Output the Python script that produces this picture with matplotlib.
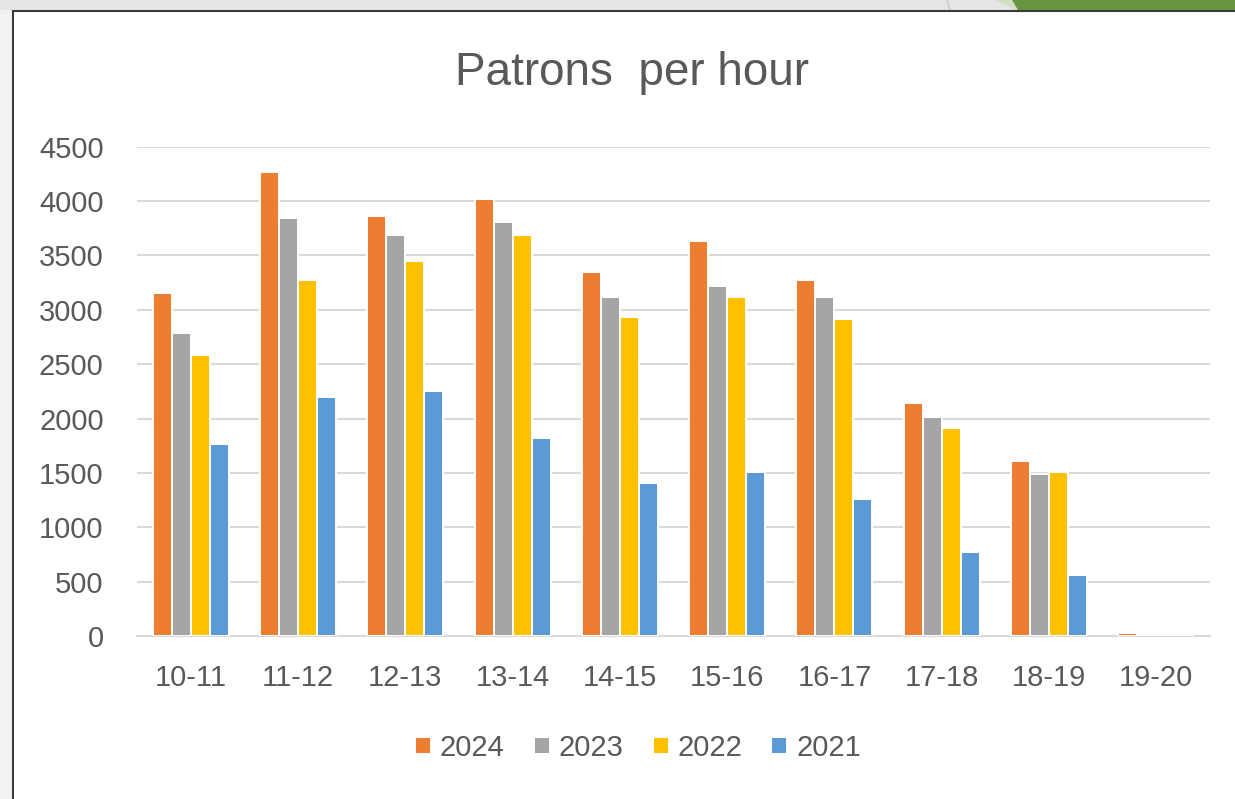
import numpy as np
import matplotlib.pyplot as plt
from matplotlib.patches import Rectangle, Polygon

plt.rcParams['font.family'] = ['Liberation Sans', 'DejaVu Sans']

# =============================================================================
# DATA
# =============================================================================

hours = ['10-11', '11-12', '12-13', '13-14', '14-15',
         '15-16', '16-17', '17-18', '18-19', '19-20']
years = ['2024', '2023', '2022', '2021']

patrons_2024 = [3150, 4270, 3865, 4015, 3350, 3635, 3275, 2145, 1610, 30]
patrons_2023 = [2790, 3840, 3685, 3810, 3120, 3220, 3120, 2015, 1490, 0]
patrons_2022 = [2585, 3275, 3450, 3685, 2935, 3120, 2915, 1915, 1510, 0]
patrons_2021 = [1765, 2200, 2255, 1820, 1410, 1510, 1260, 775, 565, 0]

series = [patrons_2024, patrons_2023, patrons_2022, patrons_2021]
colors = ['#ED7D31', '#A5A5A5', '#FFC000', '#5B9BD5']

TEXT = '#595959'
GRID = '#D9D9D9'

# =============================================================================
# FIGURE
# =============================================================================

fig = plt.figure(figsize=(12.35, 7.99), dpi=100)
W, H = 1235, 799

# screenshot frame: grey strips, dark border, green slide decoration
fig.patches.append(Rectangle((0, 0), 12 / W, 1, transform=fig.transFigure,
                             facecolor='#F2F2F2', edgecolor='none'))
fig.patches.append(Rectangle((0, 1 - 10 / H), 1, 10 / H, transform=fig.transFigure,
                             facecolor='#E6E6E6', edgecolor='none'))
fig.patches.append(Polygon([(995 / W, 1), (1015 / W, 1 - 10 / H), (1, 1 - 10 / H), (1, 1)],
                           closed=True, transform=fig.transFigure,
                           facecolor='#D3DFC4', edgecolor='none'))
fig.patches.append(Polygon([(1012 / W, 1), (1018 / W, 1 - 10 / H), (1, 1 - 10 / H), (1, 1)],
                           closed=True, transform=fig.transFigure,
                           facecolor='#679441', edgecolor='none'))
fig.add_artist(plt.Line2D([947 / W, 950 / W], [1, 1 - 10 / H], transform=fig.transFigure,
                          color='#C8C8C8', lw=1))
fig.add_artist(plt.Line2D([12.5 / W, 1], [1 - 10.5 / H, 1 - 10.5 / H], transform=fig.transFigure,
                          color='#3A3A3A', lw=1.5))
fig.add_artist(plt.Line2D([12.5 / W, 12.5 / W], [0, 1 - 10.5 / H], transform=fig.transFigure,
                          color='#3A3A3A', lw=1.5))

ax = fig.add_axes([137 / W, 1 - 636 / H, (1210 - 137) / W, (636 - 146.7) / H])

x = np.arange(len(hours))
bw = 0.177
for i, (vals, col, lab) in enumerate(zip(series, colors, years)):
    ax.bar(x + (i - 1.5) * bw, vals, width=bw, color=col, edgecolor='white',
           linewidth=1.4, label=lab, zorder=3)

ax.set_xlim(-0.5, len(hours) - 0.5)
ax.set_ylim(0, 4500)
ax.set_yticks(np.arange(0, 4501, 500))
ax.set_xticks(x)
ax.set_xticklabels(hours)

ax.grid(axis='y', color=GRID, linewidth=1.5, zorder=0)
for s in ['left', 'right', 'top']:
    ax.spines[s].set_visible(False)
ax.spines['bottom'].set_color(GRID)
ax.spines['bottom'].set_linewidth(1.5)
ax.tick_params(axis='both', length=0, labelsize=21, labelcolor=TEXT)
ax.tick_params(axis='y', pad=24)
ax.tick_params(axis='x', pad=20)

fig.text(632 / W, 1 - 73 / H, 'Patrons  per hour', ha='center', va='center',
         fontsize=33, color=TEXT)

fig.legend(loc='center', bbox_to_anchor=(638 / W, 1 - 748 / H), ncol=4,
           frameon=False, fontsize=21, labelcolor=TEXT,
           handlelength=0.55, handleheight=0.55, handletextpad=0.3,
           columnspacing=1.0)

fig.savefig('out.png', dpi=100)
